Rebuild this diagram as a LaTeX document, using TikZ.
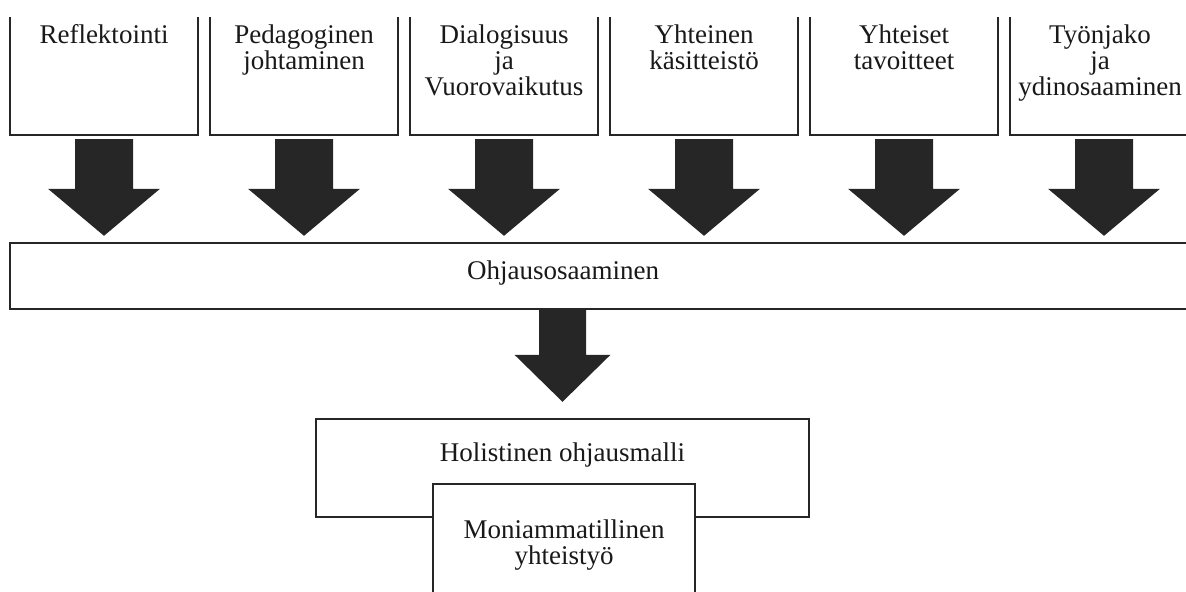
\documentclass[tikz,border=0pt]{standalone}
\usepackage{fontspec}
\setmainfont{Liberation Serif}
\usetikzlibrary{calc}

\tikzset{
  laatikko/.style={draw=black!85, line width=1.2pt, fill=white, rectangle, inner sep=0pt},
  ylalaatikko/.style={laatikko, minimum width=94pt, minimum height=62.5pt},
  teksti/.style={align=center, inner sep=0pt, text=black!90, font=\fontsize{13.5}{13}\selectfont},
  nuoli/.style={fill=black!85},
}
% paksu nuoli: alku, karki, varren puolileveys, karjen puolileveys
\newcommand{\isonuoli}[4]{%
  \fill[nuoli] let \p1=(#1), \p2=(#2) in
    (\x1-#3,\y1) -- (\x1-#3,\y2+23.5pt) -- (\x1-#4,\y2+23.5pt) -- (\x1,\y2)
    -- (\x1+#4,\y2+23.5pt) -- (\x1+#3,\y2+23.5pt) -- (\x1+#3,\y1) -- cycle;}

\begin{document}
\begin{tikzpicture}[x=0.5pt, y=-0.5pt]
\useasboundingbox (0,0) rectangle (1186,592);
\clip (0,18) rectangle (1186,592);
% Ylarivin laatikot
\node[ylalaatikko] (refl) at (104,72.5) {};
\node[ylalaatikko] (peda) at (304,72.5) {};
\node[ylalaatikko] (dial) at (504,72.5) {};
\node[ylalaatikko] (kasi) at (704,72.5) {};
\node[ylalaatikko] (tavo) at (904,72.5) {};
\node[ylalaatikko] (tyon) at (1104,72.5) {};
% Tekstit ylarivin laatikoissa
\node[teksti, anchor=north] (reflt) at (104,24) {Reflektointi};
\node[teksti, anchor=north] (pedat) at (304,24) {Pedagoginen\\johtaminen};
\node[teksti, anchor=north] (dialt) at (504,24) {Dialogisuus\\ja\\Vuorovaikutus};
\node[teksti, anchor=north] (kasit) at (704,24) {Yhteinen\\käsitteistö};
\node[teksti, anchor=north] (tavot) at (904,24) {Yhteiset\\tavoitteet};
\node[teksti, anchor=north] (tyont) at (1100,24) {Työnjako\\ja\\ydinosaaminen};
% Ohjausosaaminen
\node[laatikko, minimum width=595pt, minimum height=33pt] (ohj) at (605,276) {};
\node[teksti, anchor=base] (ohjt) at (563,280) {Ohjausosaaminen};
% Nuolet ylhaalta palkkiin
\isonuoli{$(refl.south)+(0,3)$}{$(refl.south |- ohj.north)+(0,-6)$}{14.5pt}{28pt}
\isonuoli{$(peda.south)+(0,3)$}{$(peda.south |- ohj.north)+(0,-6)$}{14.5pt}{28pt}
\isonuoli{$(dial.south)+(0,3)$}{$(dial.south |- ohj.north)+(0,-6)$}{14.5pt}{28pt}
\isonuoli{$(kasi.south)+(0,3)$}{$(kasi.south |- ohj.north)+(0,-6)$}{14.5pt}{28pt}
\isonuoli{$(tavo.south)+(0,3)$}{$(tavo.south |- ohj.north)+(0,-6)$}{14.5pt}{28pt}
\isonuoli{$(tyon.south)+(0,3)$}{$(tyon.south |- ohj.north)+(0,-6)$}{14.5pt}{28pt}
% Holistinen ohjausmalli
\node[laatikko, minimum width=246.5pt, minimum height=49pt] (hol) at (562.5,468) {};
\node[teksti, anchor=base] (holt) at (562.5,461) {Holistinen ohjausmalli};
\node[laatikko, minimum width=131pt, minimum height=65pt] (moni) at (564,549) {};
\node[teksti, anchor=north] (monit) at (564,519) {Moniammatillinen\\yhteistyö};
% Nuoli palkista malliin
\isonuoli{$(hol.north |- ohj.south)$}{$(hol.north)+(0,-16)$}{11.75pt}{24pt}
\end{tikzpicture}
\end{document}
